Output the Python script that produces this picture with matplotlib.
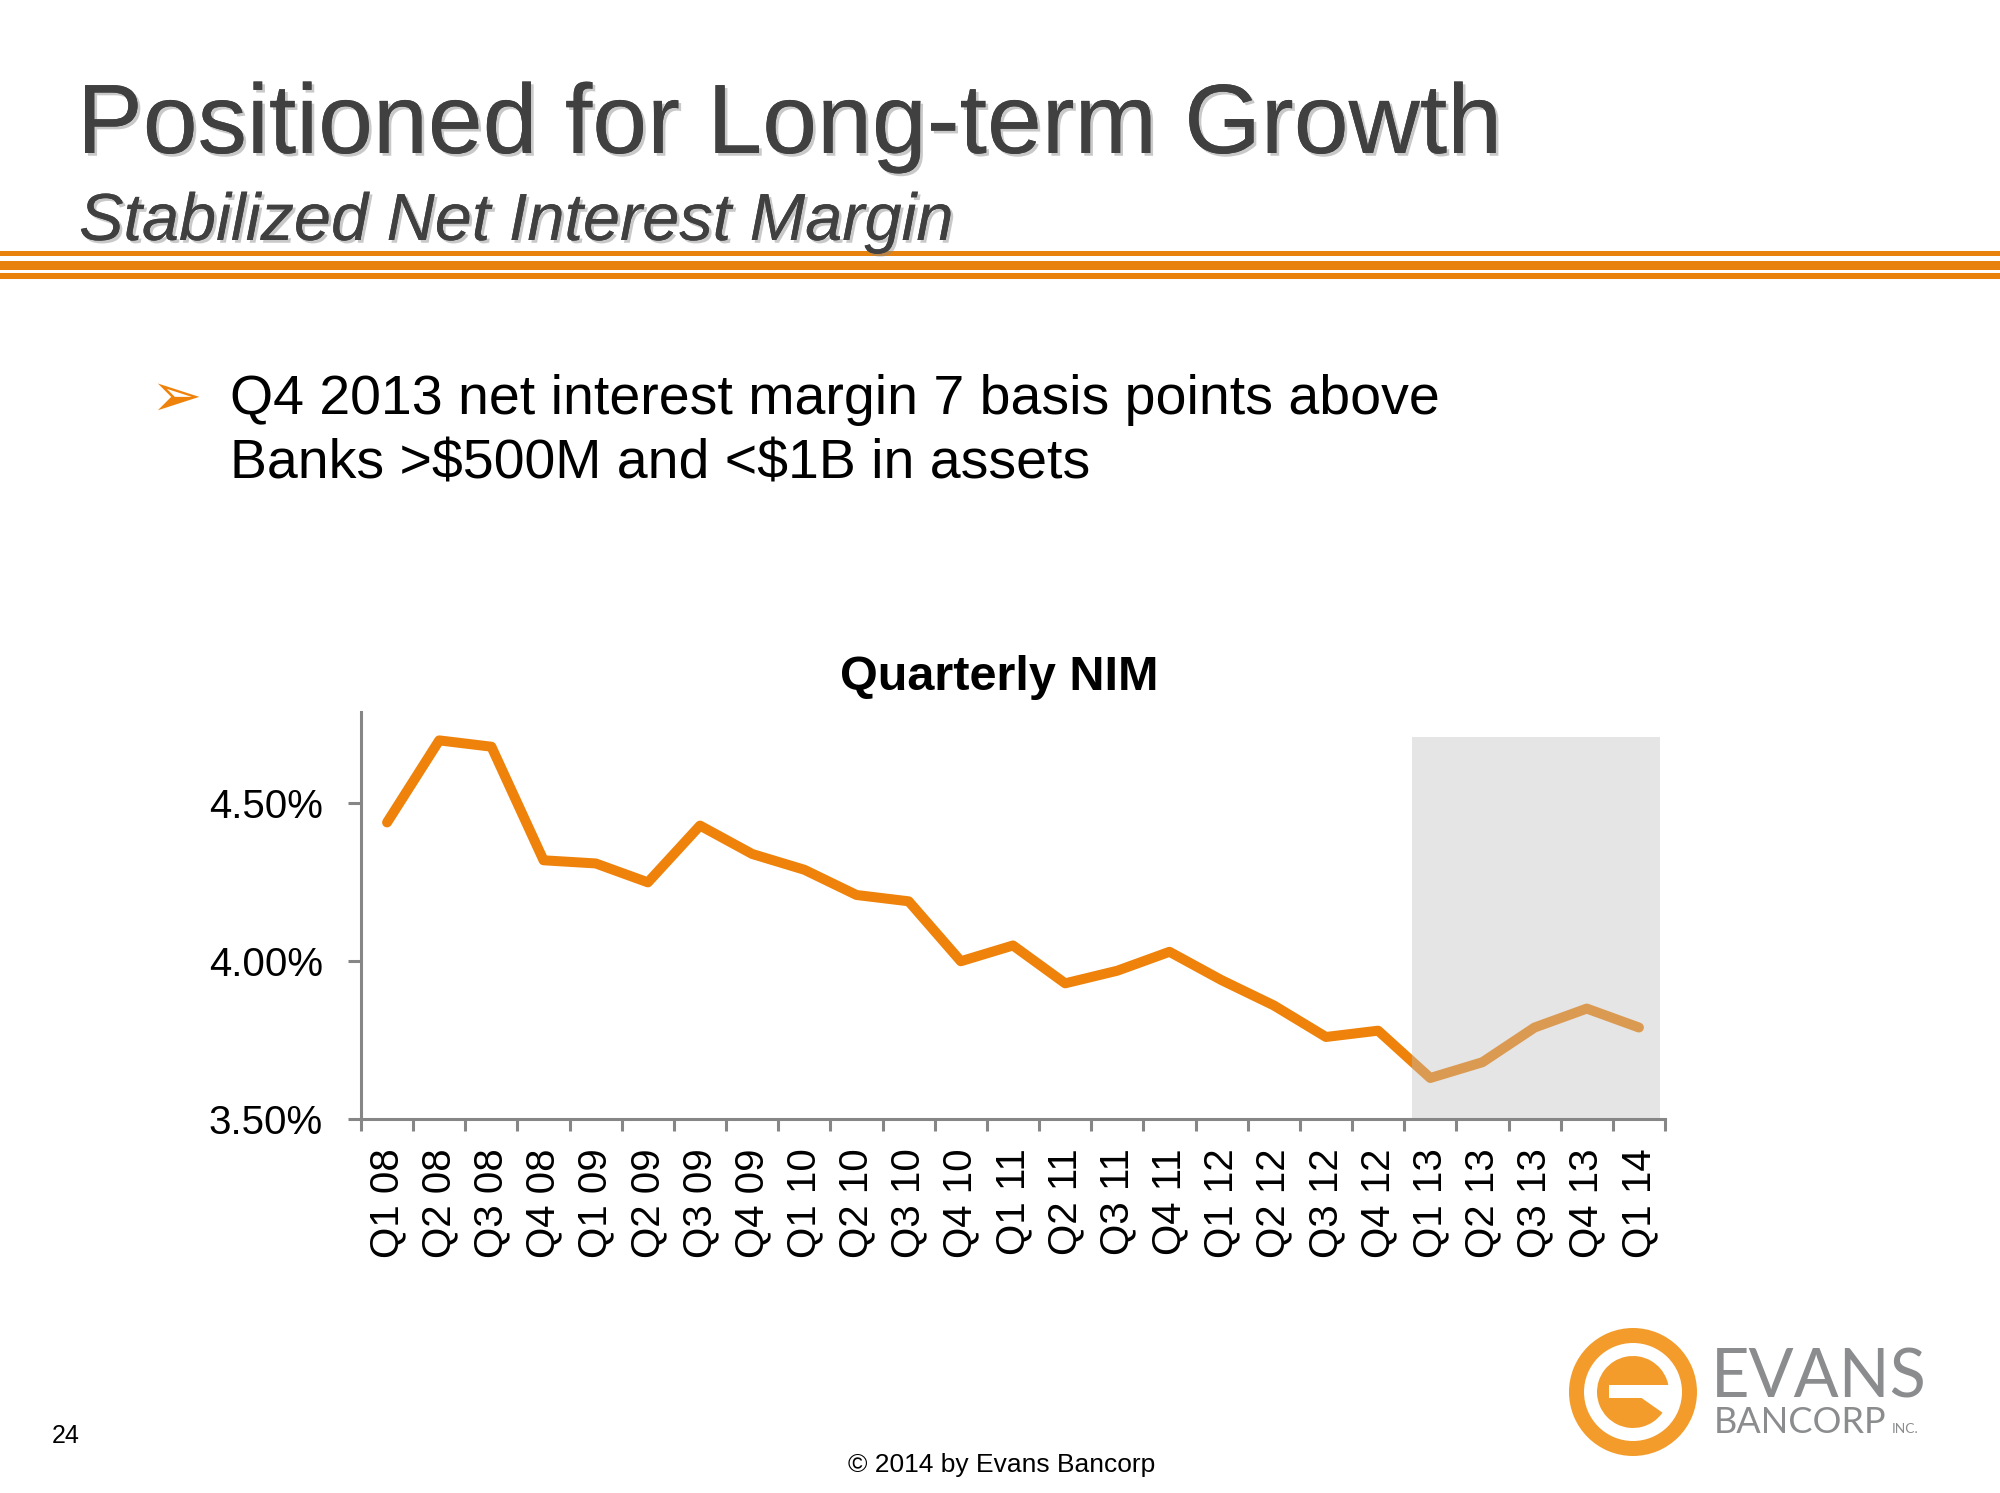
import numpy as np
import matplotlib
matplotlib.use("Agg")
import matplotlib.pyplot as plt
from matplotlib.patches import Rectangle, Wedge
import matplotlib.patheffects as pe

plt.rcParams['font.family'] = ['Liberation Sans', 'DejaVu Sans']

# Datos
quarters = ['Q1 08', 'Q2 08', 'Q3 08', 'Q4 08', 'Q1 09', 'Q2 09', 'Q3 09', 'Q4 09',
            'Q1 10', 'Q2 10', 'Q3 10', 'Q4 10', 'Q1 11', 'Q2 11', 'Q3 11', 'Q4 11',
            'Q1 12', 'Q2 12', 'Q3 12', 'Q4 12', 'Q1 13', 'Q2 13', 'Q3 13', 'Q4 13',
            'Q1 14']
nim = [4.44, 4.70, 4.68, 4.32, 4.31, 4.25, 4.43, 4.34, 4.29, 4.21, 4.19, 4.00,
       4.05, 3.93, 3.97, 4.03, 3.94, 3.86, 3.76, 3.78, 3.63, 3.68, 3.79, 3.85,
       3.79]
yticks = [3.50, 4.00, 4.50]
highlight_from = 'Q1 13'

ORANGE = '#EE820A'
GRAY_AX = '#868686'
W, H = 2000, 1493

fig = plt.figure(figsize=(W / 100, H / 100), dpi=100)

# capa de fondo en píxeles
bg = fig.add_axes([0, 0, 1, 1])
bg.set_xlim(0, W)
bg.set_ylim(H, 0)
bg.axis('off')

# titulo con sombra
shadow = [pe.withSimplePatchShadow(offset=(2, -2), shadow_rgbFace='#888888', alpha=0.45), pe.Normal()]
bg.text(77, 153, 'Positioned for Long-term Growth', fontsize=71, color='#404040',
        va='baseline', ha='left', path_effects=shadow)
bg.text(79, 240, 'Stabilized Net Interest Margin', fontsize=48, style='italic',
        color='#404040', va='baseline', ha='left', path_effects=shadow)

# franjas naranjas
for y0, y1 in [(251, 256), (261, 270), (273, 279)]:
    bg.add_patch(Rectangle((0, y0), W, y1 - y0, color='#E8820C', lw=0))

# bullet
bg.text(150, 416, '\u27a2', fontsize=44, color=ORANGE, family='DejaVu Sans',
        va='baseline', ha='left')
bg.text(230, 414, 'Q4 2013 net interest margin 7 basis points above', fontsize=40,
        va='baseline', ha='left')
bg.text(230, 478, 'Banks >\\$500M and <\\$1B in assets', fontsize=40,
        va='baseline', ha='left')

# titulo del grafico
bg.text(999, 690, 'Quarterly NIM', fontsize=35, fontweight='bold',
        va='baseline', ha='center')

# pie
bg.text(52, 1443, '24', fontsize=18, va='baseline', ha='left')
bg.text(1002, 1472, '\u00a9 2014 by Evans Bancorp', fontsize=19, va='baseline', ha='center')

# logo
cx, cy = 1633, 1392
LOGO = '#F39C2C'
bg.add_patch(Wedge((cx, cy), 64, 0, 360, width=15, color=LOGO, lw=0))
bg.add_patch(Wedge((cx, cy), 36, 35, 360, color=LOGO, lw=0))
bg.add_patch(Rectangle((cx - 24, cy - 7), 66, 13, color='white', lw=0))
bg.text(1711, 1398, 'EVANS', fontsize=48, color='#8A8C8E', family='Lato',
        va='baseline', ha='left')
bg.text(1714, 1433, 'BANCORP', fontsize=26, color='#8A8C8E', family='Lato',
        va='baseline', ha='left')
bg.text(1892, 1433, 'INC.', fontsize=10, color='#8A8C8E', family='Lato',
        va='baseline', ha='left')

# grafico
ax = fig.add_axes([361 / W, 1 - 1119 / H, (1665 - 361) / W, (1119 - 712) / H])
ax.patch.set_alpha(0)
x = np.arange(len(quarters))
ax.plot(x, nim, color=ORANGE, lw=7.2, solid_capstyle='round', solid_joinstyle='round', zorder=2)

# zona sombreada (Q1 13 en adelante)
i0 = quarters.index(highlight_from)
x_left = i0 - 0.35
x_right = len(quarters) - 0.6
ax.add_patch(Rectangle((x_left, yticks[0]), x_right - x_left, 4.71 - yticks[0],
                       facecolor='#BFBFBF', alpha=0.4, lw=0, zorder=3))

ax.set_xlim(-0.5, len(quarters) - 0.5)
ax.set_ylim(3.5, 4.79)

ax.set_yticks(yticks)
ax.set_yticklabels([f'{v:.2f}%' for v in yticks])
ax.set_xticks(x)
ax.set_xticklabels(quarters, rotation=90)
ax.set_xticks(np.arange(len(quarters) + 1) - 0.5, minor=True)

ax.tick_params(axis='y', which='major', length=9.4, width=2.2, color=GRAY_AX,
               labelsize=29, pad=18)
ax.tick_params(axis='x', which='major', length=0, labelsize=29, pad=21)
ax.tick_params(axis='x', which='minor', length=8.6, width=2.2, color=GRAY_AX)

for s in ['top', 'right']:
    ax.spines[s].set_visible(False)
for s in ['left', 'bottom']:
    ax.spines[s].set_color(GRAY_AX)
    ax.spines[s].set_linewidth(2.2)
    ax.spines[s].set_zorder(4)

fig.savefig('out.png', dpi=100)
